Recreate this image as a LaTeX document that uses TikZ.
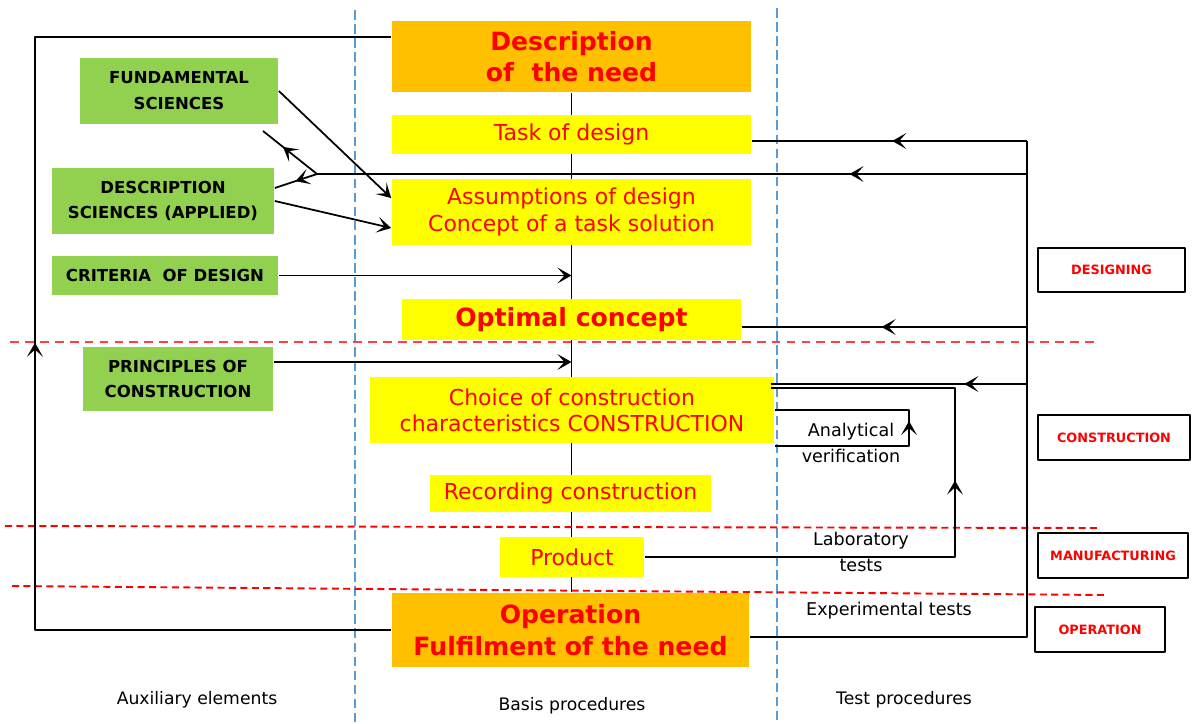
\documentclass[tikz,border=0pt]{standalone}
\usepackage{fontspec}
\setmainfont{DejaVu Sans}
\usetikzlibrary{arrows.meta,calc,backgrounds,decorations.markings}

\definecolor{needorange}{HTML}{FFC000}
\definecolor{procyellow}{HTML}{FFFF00}
\definecolor{auxgreen}{HTML}{92D050}
\definecolor{sepblue}{HTML}{5B9BD5}
\definecolor{sepred}{HTML}{FF4040}

\tikzset{
  needbox/.style={fill=needorange,text=red,align=center,inner sep=0pt,
    font=\fontsize{14.3}{17.5}\selectfont\bfseries},
  procbox/.style={fill=procyellow,text=red,align=center,inner sep=0pt,
    font=\fontsize{12.5}{15.5}\selectfont},
  auxbox/.style={fill=auxgreen,align=center,inner sep=0pt,
    font=\fontsize{9.4}{14.7}\selectfont\bfseries},
  phasebox/.style={draw,line width=1.1pt,text=red,inner sep=0pt,
    font=\fontsize{7.3}{8}\selectfont\bfseries},
  note/.style={align=center,inner sep=0pt,font=\fontsize{10}{15}\selectfont},
  colname/.style={inner sep=0pt,font=\fontsize{9.8}{11}\selectfont},
  midarrow/.style={postaction={decorate,decoration={markings,
    mark=at position #1 with {\arrow{>}}}}}
}

\begin{document}
\begin{tikzpicture}[x=0.02cm,y=-0.02cm,line width=1pt,line join=round,
  >={Stealth[length=8pt,width=9pt,inset=4pt]}]
\useasboundingbox (0,0) rectangle (1192,723);

% column and phase separators
\draw[sepblue,line width=0.7pt,dash pattern=on 5.5pt off 2.5pt]
(355,10) -- (355,723)
(777,8) -- (777,723);
\draw[sepred,line width=1.1pt,dash pattern=on 5pt off 3.5pt] (10,342) -- (1100,342);
\draw[red,line width=1.1pt,dash pattern=on 4pt off 2.5pt]
(5,526) -- (1100,528)
(12,586) -- (1105,595);

% basis procedures
\node[needbox,minimum width=7.18cm,minimum height=1.42cm] (need) at (571.5,56.5) {Description\\of~ the need};
\node[procbox,minimum width=7.18cm,minimum height=0.78cm] (task) at (571.5,134.5) {Task of design};
\node[procbox,minimum width=7.18cm,minimum height=1.32cm] (assum) at (571.5,212) {Assumptions of design\\Concept of a task solution};
\node[procbox,minimum width=6.78cm,minimum height=0.82cm,font=\fontsize{14.3}{17}\selectfont\bfseries] (optim) at (571.5,319.5) {Optimal concept};
\node[procbox,minimum width=8.08cm,minimum height=1.32cm,font=\fontsize{12.5}{14.7}\selectfont] (choice) at (572,410) {Choice of construction\\characteristics CONSTRUCTION};
\node[procbox,minimum width=5.62cm,minimum height=0.74cm] (record) at (570.5,493.5) {Recording construction};
\node[procbox,minimum width=2.88cm,minimum height=0.80cm] (product) at (572,557) {Product};
\node[needbox,minimum width=7.14cm,minimum height=1.48cm,font=\fontsize{14.3}{18}\selectfont\bfseries] (oper) at (570.5,630) {Operation\\Fulfilment of the need};

% auxiliary elements
\node[auxbox,minimum width=3.96cm,minimum height=1.32cm] (fund) at (179,91) {FUNDAMENTAL\\SCIENCES};
\node[auxbox,minimum width=4.44cm,minimum height=1.32cm] (desc) at (163,201) {DESCRIPTION\\SCIENCES (APPLIED)};
\node[auxbox,minimum width=4.52cm,minimum height=0.78cm] (crit) at (165,275.5) {CRITERIA~ OF DESIGN};
\node[auxbox,minimum width=3.80cm,minimum height=1.28cm] (princ) at (178,379) {PRINCIPLES OF\\CONSTRUCTION};

% phases
\node[phasebox,minimum width=2.94cm,minimum height=0.88cm] (designing) at (1111.5,270) {DESIGNING};
\node[phasebox,minimum width=3.04cm,minimum height=0.90cm] (construction) at (1114,437.5) {CONSTRUCTION};
\node[phasebox,minimum width=3.00cm,minimum height=0.90cm] (manufacturing) at (1113,555.5) {MANUFACTURING};
\node[phasebox,minimum width=2.60cm,minimum height=0.90cm] (operation) at (1100,629.5) {OPERATION};

% test procedures
\node[note] (analytic) at (851,443) {Analytical\\verification};
\node[note] (labtests) at (861,552) {Laboratory\\tests};
\node[note] (exptests) at (889,611) {Experimental tests};

% column names
\node[colname] (auxcol) at (197,700) {Auxiliary elements};
\node[colname] (basiscol) at (572,706) {Basis procedures};
\node[colname] (testcol) at (904,700) {Test procedures};

% main line
\begin{scope}[on background layer]
\draw (need.south) -- (need.south |- oper.north);
\end{scope}

% feedback from operation to the need
\coordinate (backtop) at (35,37);
\draw[midarrow=0.493] (oper.west) -| (backtop) -- (need.west |- backtop);

% feedback from tests
\coordinate (r1) at (1027,141);
\coordinate (r2) at (1027,174);
\coordinate (r3) at (1027,327);
\coordinate (r4) at (1027,384);
\coordinate (r5) at (1027,637);
\coordinate (fork) at (317,174);
\coordinate (fundback) at (263,131);
\draw (r1) -- (r5) -- (oper.east |- r5);
\draw[midarrow=0.49] (r1) -- (task.east |- r1);
\draw[midarrow=0.25] (r2) -- (fork);
\draw[midarrow=0.63] (fork) -- (fundback);
\draw[midarrow=0.51] (fork) -- ($(desc.east)+(0,-13)$);
\draw[midarrow=0.51] (r3) -- (optim.east |- r3);
\draw[midarrow=0.245] (r4) -- ($(choice.east |- r4)+(-4,0)$);

% laboratory and analytical loops
\coordinate (labturn) at (955,388);
\coordinate (anaturn) at (909,410);
\draw[midarrow=0.583] (product.east) -| (labturn) -- ($(choice.east |- labturn)+(-4,0)$);
\draw[midarrow=0.523] ($(choice.east)+(0,36)$) -| (anaturn) -- (choice.east);

% inputs of auxiliary elements
\draw[->] (fund.east) -- ($(assum.west)+(0,-14)$);
\draw[->] (desc.east) -- ($(assum.west)+(0,16)$);
\draw[->] (crit.east) -- (crit.east -| need.south);
\coordinate (princout) at ($(princ.east)+(0,-17)$);
\draw[->] (princout) -- (princout -| need.south);
\end{tikzpicture}
\end{document}
